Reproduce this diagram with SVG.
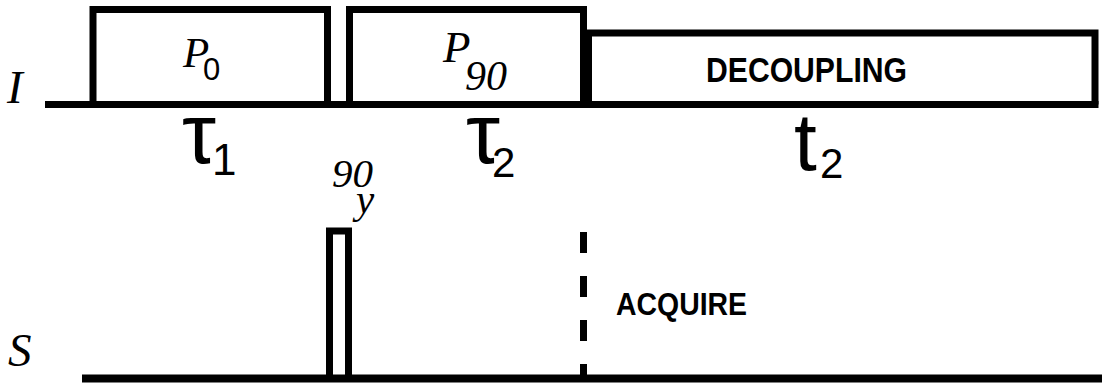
<svg xmlns="http://www.w3.org/2000/svg" width="1102" height="383" viewBox="0 0 1102 383">
<style>
.ln{fill:none;stroke:#000;stroke-width:7;stroke-linejoin:miter;stroke-linecap:butt}
.it{font-family:"Liberation Serif",serif;font-style:italic;fill:#000}
.sans{font-family:"Liberation Sans",sans-serif;font-style:normal;fill:#000}
.bold{font-family:"Liberation Sans",sans-serif;font-weight:bold;fill:#000}
</style>
<rect width="1102" height="383" fill="#fff"/>
<g id="channel-I">
<text class="it" x="7" y="103" font-size="47">I</text>
<line class="ln" x1="45" y1="104.5" x2="1098.5" y2="104.5"/>
</g>
<g id="channel-S">
<text class="it" x="8" y="366" font-size="47">S</text>
<line class="ln" x1="82" y1="378.5" x2="1102" y2="378.5" style="stroke-width:8"/>
</g>
<g id="pulse-P0">
<path class="ln" d="M93,104.5 V9.5 H327.5 V104.5"/>
<text class="it" x="183" y="67" font-size="43">P<tspan class="sans" x="203" y="80" font-size="31">0</tspan></text>
<text class="sans" x="182" y="163" font-size="86">τ<tspan x="212" y="175" font-size="44">1</tspan></text>
</g>
<g id="pulse-P90">
<path class="ln" d="M349.5,104.5 V9.5 H583.5 V104.5"/>
<text class="it" x="443" y="62" font-size="45">P<tspan x="465" y="90" font-size="42">90</tspan></text>
<text class="sans" x="466" y="163" font-size="86">τ<tspan x="492" y="177" font-size="42">2</tspan></text>
</g>
<g id="decoupling">
<path class="ln" d="M588.5,104.5 V33 H1095 V104.5"/>
<text class="bold" x="706" y="82" font-size="35" textLength="201" lengthAdjust="spacingAndGlyphs">DECOUPLING</text>
<text class="sans" x="794" y="170" font-size="82">t<tspan x="820" y="178" font-size="42">2</tspan></text>
</g>
<g id="pulse-90y">
<path class="ln" d="M329.5,378 V231 H348.5 V378"/>
<text class="it" x="332" y="187" font-size="41">90<tspan x="356" y="213">y</tspan></text>
</g>
<g id="acquire">
<line class="ln" x1="583.5" y1="232" x2="583.5" y2="375" stroke-dasharray="21 23"/>
<text class="bold" x="616" y="315" font-size="31" textLength="131" lengthAdjust="spacingAndGlyphs">ACQUIRE</text>
</g>
</svg>
